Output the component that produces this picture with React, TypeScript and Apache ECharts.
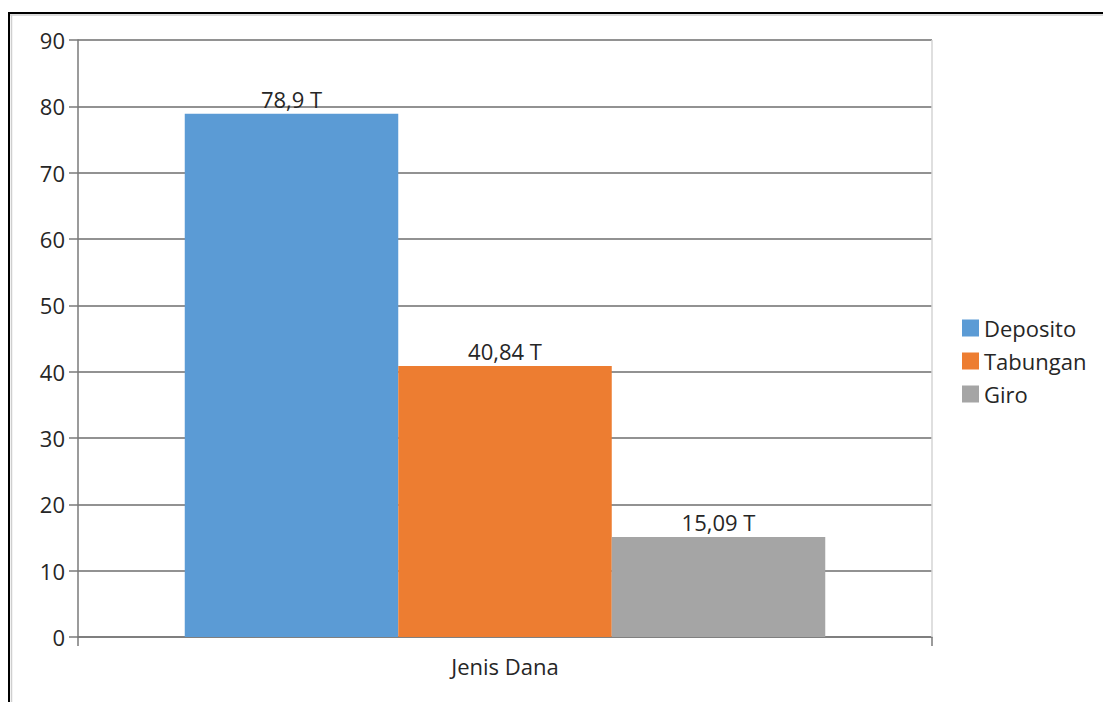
import React, { useEffect, useRef } from "react";
import * as echarts from "echarts";

const categories = ["Jenis Dana"];
const seriesNames = ["Deposito", "Tabungan", "Giro"];
const depositoValues = [78.9];
const tabunganValues = [40.84];
const giroValues = [15.09];
const valueLabels = ["78,9 T", "40,84 T", "15,09 T"];
const colors = ["#5B9BD5", "#ED7D31", "#A5A5A5"];

const FONT = "'Open Sans', 'Noto Sans', sans-serif";

export default function App() {
  const ref = useRef<HTMLDivElement>(null);
  useEffect(() => {
    if (!ref.current) return;
    const chart = echarts.init(ref.current, null, { renderer: "svg" });
    const allValues = [depositoValues, tabunganValues, giroValues];
    chart.setOption({
      animation: false,
      backgroundColor: "#ffffff",
      textStyle: { fontFamily: FONT },
      grid: { left: 78, top: 40, right: 171, bottom: 65 },
      legend: {
        orient: "vertical",
        left: 957,
        top: 312,
        itemWidth: 17,
        itemHeight: 17,
        itemGap: 11,
        icon: "rect",
        textStyle: { fontSize: 22, color: "#262626", fontFamily: FONT },
        data: seriesNames,
      },
      xAxis: {
        type: "category",
        data: categories,
        axisLine: { show: true, lineStyle: { color: "#7a7a7a", width: 1.5 } },
        axisTick: { show: true, length: 9, lineStyle: { color: "#7a7a7a", width: 1.5 } },
        axisLabel: { fontSize: 22, color: "#262626", margin: 18, fontFamily: FONT },
      },
      yAxis: {
        type: "value",
        min: 0,
        max: 90,
        interval: 10,
        axisLine: { show: true, lineStyle: { color: "#7a7a7a", width: 1.5 } },
        axisTick: { show: true, length: 9, lineStyle: { color: "#7a7a7a", width: 1.5 } },
        axisLabel: { fontSize: 22, color: "#262626", margin: 13, fontFamily: FONT },
        splitLine: { show: true, lineStyle: { color: "#6e6e6e", width: 1.5 } },
      },
      series: seriesNames.map((name, i) => ({
        name,
        type: "bar",
        data: allValues[i],
        barGap: "0%",
        barCategoryGap: "25%",
        itemStyle: { color: colors[i] },
        label: {
          show: true,
          position: "top",
          distance: 4,
          fontSize: 22,
          color: "#262626",
          fontFamily: FONT,
          formatter: () => valueLabels[i],
        },
      })),
      graphic: [
        { type: "line", shape: { x1: 932, y1: 40, x2: 932, y2: 637 }, style: { stroke: "#d4d4d4", lineWidth: 1.5 }, z: 1 },
        { type: "line", shape: { x1: 9, y1: 13, x2: 1103, y2: 13 }, style: { stroke: "#000000", lineWidth: 2 } },
        { type: "line", shape: { x1: 9, y1: 15, x2: 1103, y2: 15 }, style: { stroke: "#cfcfcf", lineWidth: 1.5 } },
        { type: "line", shape: { x1: 9, y1: 12, x2: 9, y2: 702 }, style: { stroke: "#000000", lineWidth: 2 } },
        { type: "line", shape: { x1: 11.5, y1: 15, x2: 11.5, y2: 702 }, style: { stroke: "#cfcfcf", lineWidth: 1.5 } },
      ],
    });
    return () => chart.dispose();
  }, []);
  return (
    <div
      ref={ref}
      style={{ position: "fixed", left: 0, top: 0, width: 1103, height: 702, background: "#fff" }}
    />
  );
}
